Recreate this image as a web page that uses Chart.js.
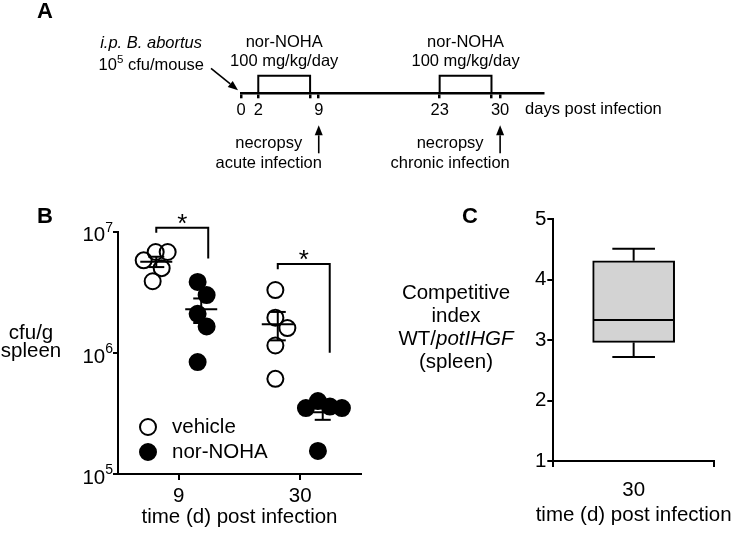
<!DOCTYPE html>
<html>
<head>
<meta charset="utf-8">
<script src="https://cdn.jsdelivr.net/npm/chart.js@4.4.0/dist/chart.umd.min.js"></script>
<style>
  html, body { margin: 0; padding: 0; background: #fff; }
  #wrap { position: relative; width: 733px; height: 540px; }
  canvas { position: absolute; }
</style>
</head>
<body>
<div id="wrap">
  <canvas id="timeline" width="733" height="190" style="left:0;top:0"></canvas>
  <canvas id="cfu" width="380" height="350" style="left:0;top:190px"></canvas>
  <canvas id="ci" width="353" height="350" style="left:380px;top:190px"></canvas>
</div>
<script>
// --- panel A : experimental timeline (days post infection)
const timelineDays = [0, 2, 8, 9, 23, 29, 30];
const labeledDays = [0, 2, 9, 23, 30];
const treatmentWindows = [[2, 8], [23, 29]];
const necropsyDays = [9, 30];
const necropsyLabels = [['necropsy', 'acute infection'], ['necropsy', 'chronic infection']];
const timelineEnd = 35;

// --- panel B : cfu/g spleen, one array per time point
const timePoints = ['9', '30'];
const vehicleCfu = [
  [6.8e6, 6.8e6, 5.8e6, 5.0e6, 3.9e6],
  [3.3e6, 1.95e6, 1.6e6, 1.15e6, 6.1e5]
];
const norNohaCfu = [
  [3.85e6, 3.0e6, 2.1e6, 1.65e6, 8.4e5],
  [4.0e5, 3.6e5, 3.5e5, 3.5e5, 1.55e5]
];
const cfuTicks = [1e5, 1e6, 1e7];

// --- panel C : competitive index WT/potIHGF (box & whiskers)
const ciDays = ['30'];
const ciMin = [2.72];
const ciQ1 = [2.96];
const ciMedian = [3.33];
const ciQ3 = [4.31];
const ciMax = [4.51];
const ciTicks = [1, 2, 3, 4, 5];

// significance brackets in panel B (levels in data units)
const sigBrackets = [
  {time: 0, top: 1.08e7, leftEnd: 9.8e6, rightEnd: 6.0e6, label: '*'},
  {time: 1, top: 5.4e6, leftEnd: 4.9e6, rightEnd: 1.0e6, label: '*'}
];

const FONT = '"Liberation Sans", Arial, Helvetica, sans-serif';
Chart.defaults.font.family = FONT;
Chart.defaults.color = '#000';
Chart.defaults.animation = false;
Chart.defaults.plugins.legend.display = false;
Chart.defaults.plugins.tooltip.enabled = false;

function arrow(ctx, x1, y1, x2, y2) {
  const a = Math.atan2(y2 - y1, x2 - x1), head = 10, half = 4;
  const bx = x2 - head * Math.cos(a), by = y2 - head * Math.sin(a);
  ctx.lineWidth = 1.6;
  ctx.beginPath(); ctx.moveTo(x1, y1); ctx.lineTo(bx, by); ctx.stroke();
  ctx.beginPath();
  ctx.moveTo(x2, y2);
  ctx.lineTo(bx + half * Math.sin(a), by - half * Math.cos(a));
  ctx.lineTo(bx - half * Math.sin(a), by + half * Math.cos(a));
  ctx.closePath(); ctx.fill();
}

function line(ctx, x1, y1, x2, y2) {
  ctx.beginPath(); ctx.moveTo(x1, y1); ctx.lineTo(x2, y2); ctx.stroke();
}

// text made of runs with their own font / vertical shift (superscripts, italics)
function drawRuns(ctx, runs, x, y, align) {
  let total = 0;
  runs.forEach(r => { ctx.font = r.f; r.w = ctx.measureText(r.t).width; total += r.w; });
  let cx = align === 'right' ? x - total : align === 'center' ? x - total / 2 : x;
  ctx.textAlign = 'left';
  ctx.textBaseline = 'middle';
  runs.forEach(r => { ctx.font = r.f; ctx.fillText(r.t, cx, y + (r.dy || 0)); cx += r.w; });
}

// ---------------- panel A
const timelineNotes = {
  id: 'timelineNotes',
  afterDraw(chart) {
    const {ctx, chartArea: area, scales: {x}} = chart;
    const axisY = area.bottom;
    ctx.save();
    ctx.fillStyle = '#000';
    ctx.strokeStyle = '#000';
    ctx.textBaseline = 'middle';
    ctx.textAlign = 'center';
    ctx.font = 'bold 22px ' + FONT;
    ctx.fillText('A', 45, 12);

    ctx.font = '16.5px ' + FONT;
    treatmentWindows.forEach(([a, b]) => {
      const cx = x.getPixelForValue((a + b) / 2);
      ctx.fillText('nor-NOHA', cx, area.top - 33);
      ctx.fillText('100 mg/kg/day', cx, area.top - 14.5);
    });

    // inoculation
    const x0 = x.getPixelForValue(timelineDays[0]);
    ctx.textAlign = 'right';
    ctx.font = 'italic 16.5px ' + FONT;
    ctx.fillText('i.p. B. abortus', x0 - 39, area.top - 32);
    drawRuns(ctx, [
      {t: '10', f: '16.5px ' + FONT},
      {t: '5', f: '11.5px ' + FONT, dy: -6},
      {t: ' cfu/mouse', f: '16.5px ' + FONT}
    ], x0 - 37, area.top - 10, 'right');
    arrow(ctx, x0 - 30, axisY - 25, x0 - 3, axisY - 3);

    ctx.font = '16.5px ' + FONT;
    ctx.textAlign = 'left';
    ctx.fillText('days post infection', x.getPixelForValue(labeledDays[labeledDays.length - 1]) + 25, axisY + 16);

    // necropsy
    ctx.textAlign = 'center';
    necropsyDays.forEach((d, i) => {
      const px = x.getPixelForValue(d);
      arrow(ctx, px, axisY + 60, px, axisY + 32);
      ctx.fillText(necropsyLabels[i][0], px - 50, axisY + 50);
      ctx.fillText(necropsyLabels[i][1], px - 50, axisY + 70);
    });
    ctx.restore();
  }
};

new Chart(document.getElementById('timeline'), {
  type: 'scatter',
  data: {
    datasets: treatmentWindows.map(([a, b]) => ({
      data: [{x: a, y: 0}, {x: a, y: 1}, {x: b, y: 1}, {x: b, y: 0}],
      showLine: true,
      borderColor: '#000',
      borderWidth: 2,
      pointRadius: 0,
      clip: false
    }))
  },
  options: {
    responsive: false,
    layout: {padding: {left: 241, right: 189.7, top: 75.7, bottom: 56.7}, autoPadding: false},
    scales: {
      x: {
        type: 'linear', min: 0, max: timelineEnd,
        afterBuildTicks: s => { s.ticks = timelineDays.map(v => ({value: v})); },
        afterFit: s => { s.height = 40; },
        border: {color: '#000', width: 2.5},
        grid: {drawOnChartArea: false, color: '#000', lineWidth: 2.5, tickLength: 5},
        ticks: {
          autoSkip: false, maxRotation: 0, padding: 2, font: {size: 16.5},
          callback: v => labeledDays.includes(v) ? String(v) : ''
        }
      },
      y: {display: false, min: 0, max: 1}
    }
  },
  plugins: [timelineNotes]
});

// ---------------- panel B
const groupOffset = 0.37;
function cfuPoints(groups, offset) {
  return groups.flatMap((vals, i) => vals.map(v => ({x: 2 * i + 1 + offset, y: v, cx: 2 * i + 1 + offset})));
}

// spread overlapping dots sideways (simple beeswarm in pixel space)
function applySwarm(chart) {
  const xs = chart.scales.x, ys = chart.scales.y;
  chart.data.datasets.forEach(ds => {
    const r = ds.pointRadius, gx = r * 1.5, gy = r * 2.1, step = 3;
    const groups = {};
    ds.data.forEach(p => { (groups[p.cx] = groups[p.cx] || []).push(p); });
    Object.values(groups).forEach(pts => {
      const cxPx = xs.getPixelForValue(pts[0].cx);
      const placed = [];
      pts.slice().sort((a, b) => b.y - a.y).forEach(p => {
        const py = ys.getPixelForValue(p.y);
        for (let k = 0; k < 100; k++) {
          const dx = (k % 2 ? 1 : -1) * Math.ceil(k / 2) * step;
          const free = placed.every(q => ((q.dx - dx) / gx) ** 2 + ((q.py - py) / gy) ** 2 >= 1);
          if (free) { placed.push({p, dx, py}); break; }
        }
      });
      const shift = placed.reduce((s, q) => s + q.dx, 0) / placed.length;
      placed.forEach(q => { q.p.x = xs.getValueForPixel(cxPx + q.dx - shift); });
    });
  });
}

const cfuNotes = {
  id: 'cfuNotes',
  afterDatasetsDraw(chart) {
    const {ctx, chartArea: area, scales: {x, y}} = chart;
    ctx.save();
    ctx.strokeStyle = '#000';
    ctx.fillStyle = '#000';
    ctx.lineWidth = 2;

    // mean ± SEM
    chart.data.datasets.forEach(ds => {
      ds.groups.forEach((vals, i) => {
        const n = vals.length;
        const mean = vals.reduce((a, b) => a + b, 0) / n;
        const sd = Math.sqrt(vals.reduce((a, b) => a + (b - mean) ** 2, 0) / (n - 1));
        const sem = sd / Math.sqrt(n);
        const cx = x.getPixelForValue(2 * i + 1 + ds.offset);
        const yTop = y.getPixelForValue(mean + sem), yBot = y.getPixelForValue(mean - sem);
        line(ctx, cx - 16, y.getPixelForValue(mean), cx + 16, y.getPixelForValue(mean));
        line(ctx, cx, yTop, cx, yBot);
        line(ctx, cx - 8, yTop, cx + 8, yTop);
        line(ctx, cx - 8, yBot, cx + 8, yBot);
      });
    });

    // significance brackets
    const [veh, nor] = chart.data.datasets;
    sigBrackets.forEach(b => {
      const lx = x.getPixelForValue(2 * b.time + 1 + veh.offset);
      const rx = x.getPixelForValue(2 * b.time + 1 + nor.offset) + 7;
      const ty = y.getPixelForValue(b.top);
      ctx.beginPath();
      ctx.moveTo(lx, y.getPixelForValue(b.leftEnd));
      ctx.lineTo(lx, ty);
      ctx.lineTo(rx, ty);
      ctx.lineTo(rx, y.getPixelForValue(b.rightEnd));
      ctx.stroke();
      ctx.font = '26px ' + FONT;
      ctx.textAlign = 'center';
      ctx.textBaseline = 'alphabetic';
      ctx.fillText(b.label, (lx + rx) / 2, ty + 4);
    });

    // log tick labels as 10 with raised exponent
    y.ticks.forEach((t, i) => {
      const py = y.getPixelForTick(i);
      drawRuns(ctx, [
        {t: '10', f: '20.5px ' + FONT, dy: 4},
        {t: String(Math.round(Math.log10(t.value))), f: '14px ' + FONT, dy: -3.5}
      ], area.left - 5, py, 'right');
    });

    // legend
    ctx.font = '20.5px ' + FONT;
    ctx.textBaseline = 'middle';
    ctx.textAlign = 'left';
    chart.data.datasets.forEach((ds, i) => {
      const cy = area.bottom - 47 + i * 25;
      ctx.beginPath();
      ctx.arc(area.left + 30, cy, ds.pointRadius, 0, 2 * Math.PI);
      ctx.fillStyle = ds.pointBackgroundColor;
      ctx.fill();
      ctx.lineWidth = ds.pointBorderWidth;
      ctx.stroke();
      ctx.fillStyle = '#000';
      ctx.fillText(ds.label, area.left + 54, cy);
    });

    // axis name and panel letter
    const mid = (area.top + area.bottom) / 2;
    ctx.textAlign = 'center';
    ctx.fillText('cfu/g', 31, mid - 20);
    ctx.fillText('spleen', 31, mid - 2);
    ctx.font = 'bold 22px ' + FONT;
    ctx.fillText('B', 45, 27);
    ctx.restore();
  }
};

const cfuChart = new Chart(document.getElementById('cfu'), {
  type: 'scatter',
  data: {
    datasets: [
      {
        label: 'vehicle', data: cfuPoints(vehicleCfu, -groupOffset), groups: vehicleCfu, offset: -groupOffset,
        pointRadius: 8, pointHoverRadius: 8, pointBorderWidth: 2,
        pointBorderColor: '#000', pointBackgroundColor: 'rgba(0,0,0,0)', clip: false
      },
      {
        label: 'nor-NOHA', data: cfuPoints(norNohaCfu, groupOffset), groups: norNohaCfu, offset: groupOffset,
        pointRadius: 8, pointHoverRadius: 8, pointBorderWidth: 2,
        pointBorderColor: '#000', pointBackgroundColor: '#000', clip: false
      }
    ]
  },
  options: {
    responsive: false,
    layout: {padding: {left: 68, right: 19, top: 41.7, bottom: 0}, autoPadding: false},
    scales: {
      x: {
        type: 'linear', min: 0, max: 2 * timePoints.length,
        afterBuildTicks: s => { s.ticks = timePoints.map((t, i) => ({value: 2 * i + 1})); },
        afterFit: s => { s.height = 66; },
        border: {color: '#000', width: 2},
        grid: {drawOnChartArea: false, color: '#000', lineWidth: 2, tickLength: 6},
        ticks: {autoSkip: false, maxRotation: 0, padding: 4, font: {size: 20.5},
          callback: v => timePoints[(v - 1) / 2]},
        title: {display: true, text: 'time (d) post infection', font: {size: 20.5}, padding: {top: 0, bottom: 10}}
      },
      y: {
        type: 'logarithmic', min: cfuTicks[0], max: cfuTicks[cfuTicks.length - 1],
        afterBuildTicks: s => { s.ticks = cfuTicks.map(v => ({value: v})); },
        afterFit: s => { s.width = 50; },
        border: {color: '#000', width: 2},
        grid: {drawOnChartArea: false, color: '#000', lineWidth: 2, tickLength: 5},
        ticks: {display: false}
      }
    }
  },
  plugins: [cfuNotes]
});
applySwarm(cfuChart);
cfuChart.update('none');

// ---------------- panel C
const ciNotes = {
  id: 'ciNotes',
  afterDatasetsDraw(chart) {
    const {ctx, chartArea: area, scales: {x, y}} = chart;
    ctx.save();
    ctx.strokeStyle = '#000';
    ctx.fillStyle = '#000';
    ctx.lineWidth = 2;
    chart.getDatasetMeta(0).data.forEach((bar, i) => {
      const {x: bx, width} = bar.getProps(['x', 'width'], true);
      const half = width / 2, cap = width * 0.26;
      const yMed = y.getPixelForValue(ciMedian[i]);
      line(ctx, bx - half + 1, yMed, bx + half - 1, yMed);
      line(ctx, bx, y.getPixelForValue(ciQ3[i]), bx, y.getPixelForValue(ciMax[i]));
      line(ctx, bx - cap, y.getPixelForValue(ciMax[i]), bx + cap, y.getPixelForValue(ciMax[i]));
      line(ctx, bx, y.getPixelForValue(ciQ1[i]), bx, y.getPixelForValue(ciMin[i]));
      line(ctx, bx - cap, y.getPixelForValue(ciMin[i]), bx + cap, y.getPixelForValue(ciMin[i]));
    });

    // horizontal y axis name
    const mid = (area.top + area.bottom) / 2;
    const cx = 76, lh = 22.8, y0 = mid - 46.5;
    const f = '20.5px ' + FONT;
    drawRuns(ctx, [{t: 'Competitive', f}], cx, y0, 'center');
    drawRuns(ctx, [{t: 'index', f}], cx, y0 + lh, 'center');
    drawRuns(ctx, [{t: 'WT/', f}, {t: 'potIHGF', f: 'italic ' + f}], cx, y0 + 2 * lh, 'center');
    drawRuns(ctx, [{t: '(spleen)', f}], cx, y0 + 3 * lh, 'center');

    // x axis name (wider than the axis itself)
    drawRuns(ctx, [{t: 'time (d) post infection', f}], (x.left + x.right) / 2, area.bottom + 54, 'center');

    drawRuns(ctx, [{t: 'C', f: 'bold 22px ' + FONT}], 90, 27, 'center');
    ctx.restore();
  }
};

new Chart(document.getElementById('ci'), {
  type: 'bar',
  data: {
    datasets: [{
      label: 'WT/potIHGF',
      data: ciDays.map((d, i) => ({x: 2 * i + 1, y: [ciQ1[i], ciQ3[i]]})),
      backgroundColor: '#d3d3d3',
      borderColor: '#000',
      borderWidth: 2,
      borderSkipped: false,
      barThickness: 82
    }]
  },
  options: {
    responsive: false,
    layout: {padding: {left: 133.3, right: 19, top: 29, bottom: 0}, autoPadding: false},
    scales: {
      x: {
        type: 'linear', min: 0, max: 2 * ciDays.length,
        afterBuildTicks: s => { s.ticks = ciDays.map((d, i) => ({value: 2 * i + 1})); },
        afterFit: s => { s.height = 79; },
        border: {color: '#000', width: 2},
        grid: {drawOnChartArea: false, color: '#000', lineWidth: 2, tickLength: 6},
        ticks: {autoSkip: false, maxRotation: 0, padding: 11, font: {size: 20.5},
          callback: v => ciDays[(v - 1) / 2]}
      },
      y: {
        min: ciTicks[0], max: ciTicks[ciTicks.length - 1],
        afterBuildTicks: s => { s.ticks = ciTicks.map(v => ({value: v})); },
        afterFit: s => { s.width = 40; },
        border: {color: '#000', width: 2},
        grid: {drawOnChartArea: false, color: '#000', lineWidth: 2, tickLength: 6},
        ticks: {autoSkip: false, padding: 1, font: {size: 20.5}}
      }
    }
  },
  plugins: [ciNotes]
});
</script>
</body>
</html>
